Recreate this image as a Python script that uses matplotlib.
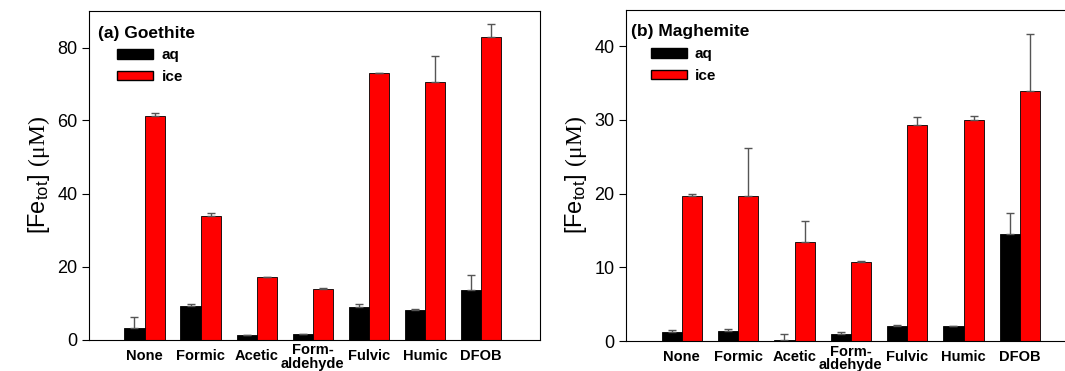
import numpy as np
import matplotlib
matplotlib.use("Agg")
import matplotlib.pyplot as plt
from matplotlib.patches import Patch

plt.rcParams['font.family'] = ['Liberation Sans', 'DejaVu Sans']
plt.rcParams['mathtext.fontset'] = 'custom'
plt.rcParams['mathtext.rm'] = 'Liberation Sans'
plt.rcParams['mathtext.sf'] = 'Liberation Serif'

categories = ["None", "Formic", "Acetic", "Form-\naldehyde", "Fulvic", "Humic", "DFOB"]

# (a) Goethite
goe_aq = [3.2, 9.2, 1.3, 1.4, 8.9, 8.2, 13.5]
goe_aq_err = [3.1, 0.4, 0.0, 0.2, 0.7, 0.2, 4.1]
goe_ice = [61.1, 33.8, 17.1, 13.9, 73.1, 70.5, 82.8]
goe_ice_err = [1.0, 0.9, 0.0, 0.3, 0.0, 7.2, 3.7]

# (b) Maghemite
mag_aq = [1.25, 1.4, 0.2, 1.0, 2.1, 2.0, 14.5]
mag_aq_err = [0.25, 0.27, 0.73, 0.25, 0.05, 0.05, 2.9]
mag_ice = [19.7, 19.7, 13.4, 10.7, 29.3, 29.95, 34.0]
mag_ice_err = [0.25, 6.55, 2.85, 0.2, 1.1, 0.55, 7.7]

fig = plt.figure(figsize=(10.65, 3.71), dpi=100)
ax1 = fig.add_axes([88.5 / 1065, 31.5 / 371, (540 - 88.5) / 1065, 328.5 / 371])
ax2 = fig.add_axes([625.5 / 1065, 30 / 371, (1079 - 625.5) / 1065, 331.5 / 371])

x = np.arange(len(categories))
w = 0.36
err_kw = dict(ecolor='#555555', elinewidth=1.0, capsize=3, capthick=1.0)


def draw(ax, aq, aq_err, ice, ice_err, ymax, yticks, title, title_x, leg_x):
    ax.bar(x - w / 2, aq, w, color='black', edgecolor='black', linewidth=0.6,
           yerr=[np.zeros(len(aq)), aq_err], error_kw=err_kw)
    ax.bar(x + w / 2, ice, w, color='#ff0000', edgecolor='black', linewidth=0.6,
           yerr=[np.zeros(len(ice)), ice_err], error_kw=err_kw)
    ax.set_xlim(-1, 7.05)
    ax.set_ylim(0, ymax)
    ax.set_yticks(yticks)
    ax.set_xticks(x)
    ax.set_xticklabels(categories, fontsize=10.5, fontweight='bold', linespacing=0.95)
    ax.tick_params(axis='x', length=0, pad=6.5)
    # the two-line label sits a little higher than the others
    ax.get_xticklabels()[3].set_y(0.016)
    ax.tick_params(axis='y', direction='out', length=5, width=0.8, labelsize=13, pad=3)
    for s in ax.spines.values():
        s.set_linewidth(0.8)
    ax.set_ylabel(r'$\mathrm{[Fe_{tot}]}\ \mathsf{(\mu M)}$', fontsize=17, labelpad=4)
    ax.text(title_x, 0.955, title, transform=ax.transAxes, fontsize=12.5,
            fontweight='bold', va='top', ha='left')
    handles = [Patch(facecolor='black', edgecolor='black', label='aq'),
               Patch(facecolor='#ff0000', edgecolor='black', label='ice')]
    ax.legend(handles=handles, loc='upper left', bbox_to_anchor=(leg_x, 0.905),
              frameon=False, prop={'weight': 'bold', 'size': 11},
              handlelength=2.35, handleheight=0.6, labelspacing=0.5,
              handletextpad=0.55, borderaxespad=0)


draw(ax1, goe_aq, goe_aq_err, goe_ice, goe_ice_err, 90, [0, 20, 40, 60, 80],
     "(a) Goethite", 0.02, 0.05)
draw(ax2, mag_aq, mag_aq_err, mag_ice, mag_ice_err, 45, [0, 10, 20, 30, 40],
     "(b) Maghemite", 0.013, 0.042)

fig.savefig("out.png", dpi=100)
